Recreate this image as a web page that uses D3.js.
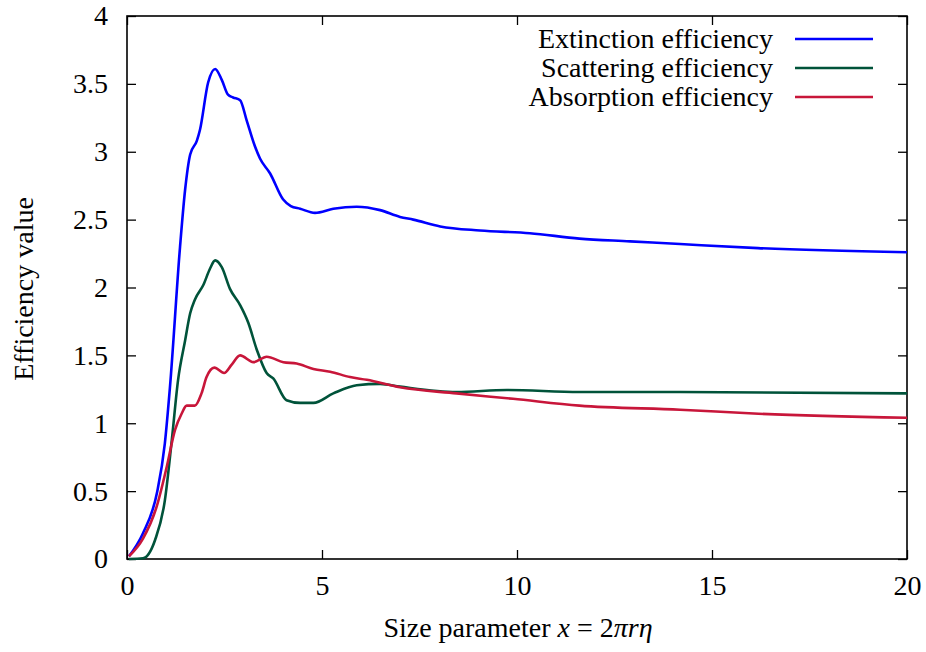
<!DOCTYPE html>
<html><head><meta charset="utf-8">
<script src="https://cdn.jsdelivr.net/npm/d3@7"></script>
<style>body{margin:0;background:#fff}svg text{font-family:"Liberation Serif","DejaVu Serif",serif;fill:#000}</style>
</head><body>
<svg id="c" width="926" height="652"></svg>
<script>
const xTicks = [0, 5, 10, 15, 20];
const yTicks = [0, 0.5, 1, 1.5, 2, 2.5, 3, 3.5, 4];
const seriesNames = ["Extinction efficiency", "Scattering efficiency", "Absorption efficiency"];
const seriesColors = ["#0000ff", "#00533a", "#c8163a"];

const extinction = [[0.05,0.02],[0.41,0.19],[0.77,0.49],[0.97,0.85],[1.1,1.26],[1.36,2.3],[1.49,2.72],[1.62,2.98],[1.79,3.08],[1.87,3.16],[2.08,3.51],[2.26,3.61],[2.43,3.53],[2.59,3.42],[2.72,3.40],[2.9,3.38],[3.07,3.23],[3.28,3.04],[3.41,2.95],[3.67,2.84],[4.0,2.65],[4.2,2.6],[4.44,2.58],[4.82,2.55],[5.29,2.58],[5.89,2.595],[6.49,2.57],[7.0,2.52],[7.34,2.50],[8.03,2.45],[9.05,2.42],[10.33,2.40],[11.6,2.36],[12.9,2.34],[14.18,2.32],[16.18,2.29],[20,2.26]];
const scattering = [[0.05,0.0],[0.41,0.005],[0.72,0.14],[0.97,0.43],[1.15,0.88],[1.31,1.32],[1.49,1.61],[1.62,1.81],[1.74,1.91],[1.96,2.02],[2.13,2.14],[2.26,2.20],[2.43,2.15],[2.64,1.99],[2.9,1.87],[3.11,1.74],[3.33,1.54],[3.58,1.37],[3.75,1.33],[4.09,1.17],[4.44,1.15],[4.78,1.15],[5.29,1.22],[5.89,1.28],[6.49,1.29],[7.0,1.27],[8.45,1.23],[9.74,1.245],[11.6,1.23],[14.18,1.23],[20,1.22]];
const absorption = [[0.05,0.02],[0.41,0.15],[0.76,0.385],[1.02,0.68],[1.23,0.95],[1.40,1.07],[1.53,1.13],[1.74,1.13],[1.91,1.22],[2.04,1.34],[2.24,1.41],[2.49,1.37],[2.68,1.43],[2.9,1.50],[3.24,1.45],[3.58,1.49],[4.01,1.45],[4.35,1.44],[4.78,1.40],[5.21,1.38],[5.72,1.34],[6.15,1.32],[7.0,1.265],[8.45,1.22],[9.9,1.18],[11.6,1.13],[14.18,1.10],[16.19,1.07],[20,1.04]];
const series = [extinction, scattering, absorption];

const L = 127, R = 907, T = 16, B = 559;
const FS = "28px";
const FF = "'Liberation Serif', 'DejaVu Serif', serif";
const svg = d3.select("#c");
const x = d3.scaleLinear().domain([0, 20]).range([L, R]);
const y = d3.scaleLinear().domain([0, 4]).range([B, T]);

const tk = 9;
const axB = svg.append("g").attr("transform", `translate(0,${B})`).call(d3.axisBottom(x).tickValues(xTicks).tickSize(-tk).tickPadding(16).tickFormat(d3.format("d")));
const axT = svg.append("g").attr("transform", `translate(0,${T})`).call(d3.axisTop(x).tickValues(xTicks).tickSize(-tk).tickFormat(""));
const axL = svg.append("g").attr("transform", `translate(${L},0)`).call(d3.axisLeft(y).tickValues(yTicks).tickSize(-tk).tickPadding(19).tickFormat(d => d3.format("~g")(d)));
const axR = svg.append("g").attr("transform", `translate(${R},0)`).call(d3.axisRight(y).tickValues(yTicks).tickSize(-tk).tickFormat(""));
[axB, axT, axL, axR].forEach(a => {
  a.attr("font-family", FF).attr("font-size", 28);
  a.select(".domain").remove();
  a.selectAll(".tick line").attr("stroke", "#000").attr("stroke-width", 1.3);
  a.selectAll(".tick text").attr("font-family", FF).style("font-family", FF).style("font-size", FS).attr("fill", "#000");
});
svg.append("rect").attr("x", L).attr("y", T).attr("width", R - L).attr("height", B - T)
  .attr("fill", "none").attr("stroke", "#000").attr("stroke-width", 1.6);

const line = d3.line().x(d => x(d[0])).y(d => y(d[1])).curve(d3.curveMonotoneX);
const g = svg.append("g");
series.forEach((s, i) => {
  g.append("path").datum(s).attr("d", line).attr("fill", "none")
    .attr("stroke", seriesColors[i]).attr("stroke-width", 2.6).attr("stroke-linejoin", "round");
});

// legend
seriesNames.forEach((n, i) => {
  const yy = 39 + i * 29;
  svg.append("text").attr("x", 773).attr("y", yy + 9).attr("text-anchor", "end")
    .style("font-size", FS).text(n);
  svg.append("line").attr("x1", 795).attr("x2", 873).attr("y1", yy).attr("y2", yy)
    .attr("stroke", seriesColors[i]).attr("stroke-width", 2.6);
});

// axis titles
const xt = svg.append("text").attr("x", 518).attr("y", 637).attr("text-anchor", "middle").style("font-size", FS);
xt.append("tspan").text("Size parameter ");
xt.append("tspan").style("font-style", "italic").text("x");
xt.append("tspan").text(" = 2");
xt.append("tspan").style("font-style", "italic").text("πrη");
svg.append("text").attr("transform", "translate(33,289) rotate(-90)").attr("text-anchor", "middle")
  .style("font-size", FS).text("Efficiency value");
</script>
</body></html>
